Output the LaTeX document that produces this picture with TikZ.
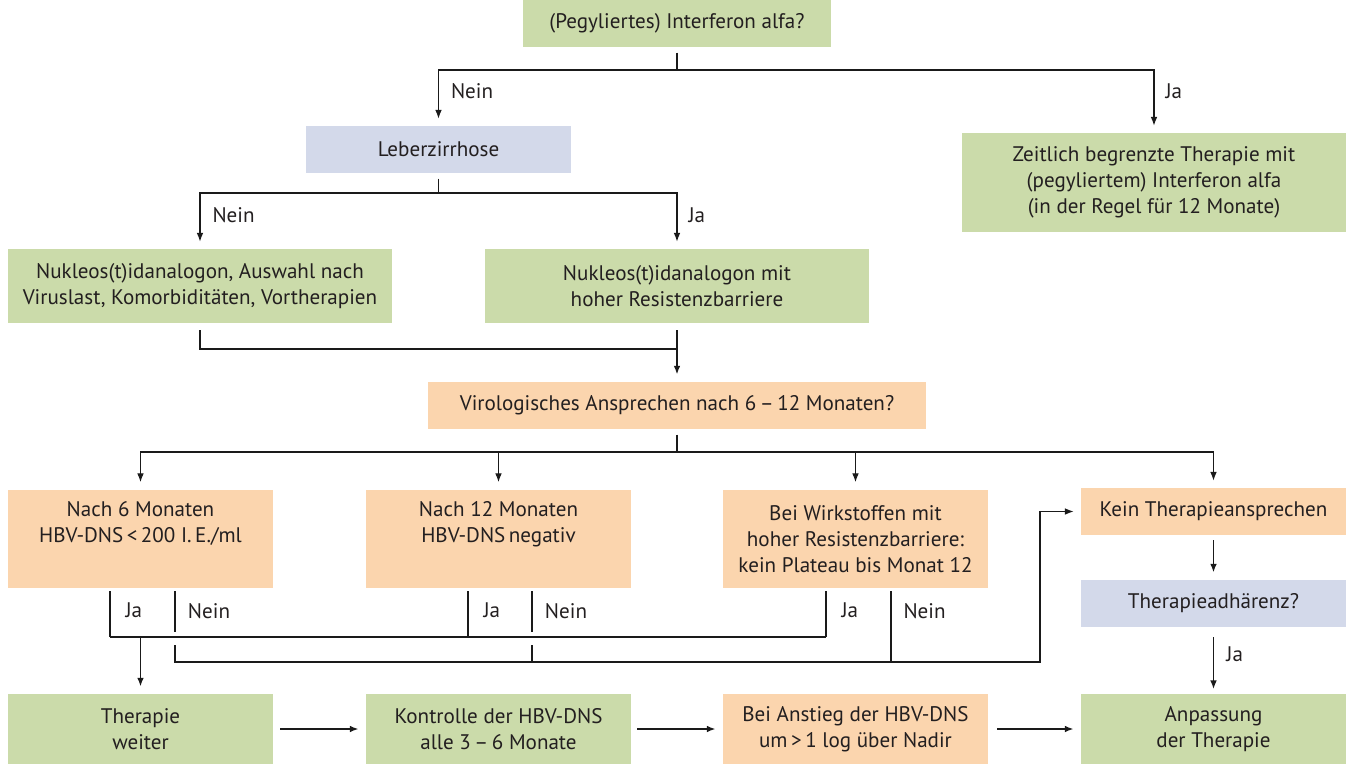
\documentclass[tikz,border=0pt]{standalone}
\usepackage{fontspec}
\setmainfont{PT Sans}
\usepackage{tikz}
\usetikzlibrary{positioning,arrows.meta}
\definecolor{hgreen}{HTML}{CBDBAA}
\definecolor{hblue}{HTML}{D3D9EA}
\definecolor{horange}{HTML}{FBD5AE}
\definecolor{hline}{HTML}{1A1A1A}
\definecolor{htext}{HTML}{231F20}
\tikzset{hbox/.style={rectangle, inner sep=0pt, align=center, text=htext, font=\fontsize{12}{14.7}\selectfont}}
\tikzset{hgreenbox/.style={hbox, fill=hgreen}}
\tikzset{hbluebox/.style={hbox, fill=hblue}}
\tikzset{horangebox/.style={hbox, fill=horange}}
\tikzset{hbus/.style={draw=hline, line width=0.6pt}}
\tikzset{hstem/.style={draw=hline, line width=1.1pt}}
\tikzset{harrow/.style={hbus, -{Latex[length=5pt,width=3.8pt]}, shorten >=4pt}}
\tikzset{hstemarrow/.style={hstem, -{Latex[length=5pt,width=3.8pt]}, shorten >=4pt}}
\tikzset{hlabel/.style={font=\fontsize{12}{14.7}\selectfont, text=htext, inner sep=0pt}}

\begin{document}
\begin{tikzpicture}[x=0.02cm, y=-0.02cm]
  \useasboundingbox (0,0) rectangle (1346,764);

  \node[hgreenbox, minimum width=6.16cm, minimum height=0.94cm] (ifn) at (677,23.5) {(Pegyliertes) Interferon alfa?};
  \node[hbluebox, minimum width=5.3cm, minimum height=0.94cm] (zirr) at (438.5,149.5) {Leberzirrhose};
  \node[hgreenbox, minimum width=7.68cm, minimum height=1.98cm] (zeit) at (1154,182.5) {Zeitlich begrenzte Therapie mit\\(pegyliertem) Interferon alfa\\(in der Regel für 12 Monate)};

  \node[hgreenbox, minimum width=7.68cm, minimum height=1.48cm] (nuk1) at (200,286) {Nukleos(t)idanalogon, Auswahl nach\\Viruslast, Komorbiditäten, Vortherapien};
  \node[hgreenbox, minimum width=7.68cm, minimum height=1.48cm] (nuk2) at (677,286) {Nukleos(t)idanalogon mit\\hoher Resistenzbarriere};

  \node[horangebox, minimum width=9.98cm, minimum height=0.94cm] (viro) at (677,405.5) {Virologisches Ansprechen nach 6\,–\,12 Monaten?};

  \node[horangebox, minimum width=5.3cm, minimum height=1.98cm] (n6) at (140.5,539) {Nach 6 Monaten\\HBV-DNS\,<\,200 I.\,E./ml\\\strut};
  \node[horangebox, minimum width=5.3cm, minimum height=1.98cm] (n12) at (498.5,539) {Nach 12 Monaten\\HBV-DNS\,negativ\\\strut};
  \node[horangebox, minimum width=5.3cm, minimum height=1.98cm] (wirk) at (855.5,539) {Bei Wirkstoffen mit\\hoher Resistenzbarriere:\\kein Plateau bis Monat 12};
  \node[horangebox, minimum width=5.3cm, minimum height=0.94cm] (kein) at (1213.5,511.5) {Kein Therapieansprechen};
  \node[hbluebox, minimum width=5.3cm, minimum height=0.94cm] (adh) at (1213.5,603.5) {Therapieadhärenz?};

  \node[hgreenbox, minimum width=5.3cm, minimum height=1.4cm] (ther) at (140.5,729) {Therapie\\weiter};
  \node[hgreenbox, minimum width=5.3cm, minimum height=1.4cm] (kontr) at (498.5,729) {Kontrolle der HBV-DNS\\alle 3\,–\,6 Monate};
  \node[horangebox, minimum width=5.3cm, minimum height=1.4cm] (anst) at (855.5,729) {Bei Anstieg der HBV-DNS\\um\,>\,1 log über Nadir};
  \node[hgreenbox, minimum width=5.3cm, minimum height=1.4cm] (anp) at (1213.5,729) {Anpassung\\der Therapie};

  \coordinate (j1) at (677,70);
  \coordinate (j2) at (438.5,193);
  \coordinate (j3) at (677,349);
  \coordinate (j4) at (677,452);
  \coordinate (n6ja) at (110,591);
  \coordinate (n6nein) at (175,591);
  \coordinate (n12ja) at (468,591);
  \coordinate (n12nein) at (532,591);
  \coordinate (wirkja) at (826,591);
  \coordinate (wirknein) at (891,591);
  \coordinate (jabus) at (0,637);
  \coordinate (gaptop) at (0,632);
  \coordinate (gapbot) at (0,645);
  \coordinate (neinbus) at (0,662);
  \coordinate (turn) at (1040,662);

  \draw[hstem, shorten <=3pt] (ifn.south) -- (j1);
  \draw[harrow] (j1) -| (zirr.north) node[hlabel, pos=0.69, right=0.24cm] {Nein};
  \draw[harrow] (j1) -| (zeit.north) node[hlabel, pos=0.67, right=0.22cm] {Ja};

  \draw[hstem, shorten <=3pt] (zirr.south) -- (j2);
  \draw[harrow] (j2) -| (nuk1.north) node[hlabel, pos=0.70, right=0.24cm] {Nein};
  \draw[harrow] (j2) -| (nuk2.north) node[hlabel, pos=0.70, right=0.22cm] {Ja};

  \draw[hbus, shorten <=4pt] (nuk1.south) |- (j3);
  \draw[hstemarrow, shorten <=4pt] (nuk2.south) -- (viro.north);

  \draw[hstem, shorten <=3pt] (viro.south) -- (j4);
  \draw[harrow] (j4) -| (n6.north);
  \draw[harrow] (j4) -| (n12.north);
  \draw[harrow] (j4) -| (wirk.north);
  \draw[harrow] (j4) -| (kein.north);

  \draw[hbus] (n6ja) -- (n6ja |- jabus) node[hlabel, pos=0.42, right=0.3cm] {Ja};
  \draw[hbus] (n6ja |- jabus) -- (wirkja |- jabus);
  \draw[hbus] (n12ja) -- (n12ja |- jabus) node[hlabel, pos=0.42, right=0.3cm] {Ja};
  \draw[hbus] (wirkja) -- (wirkja |- jabus) node[hlabel, pos=0.42, right=0.3cm] {Ja};
  \draw[hstemarrow] (ther.north |- jabus) -- (ther.north);

  \draw[hstem] (n6nein) -- (n6nein |- gaptop) node[hlabel, pos=0.5, right=0.24cm] {Nein};
  \draw[hstem] (n12nein) -- (n12nein |- gaptop) node[hlabel, pos=0.5, right=0.24cm] {Nein};
  \draw[hbus] (wirknein) -- (wirknein |- neinbus) node[hlabel, pos=0.29, right=0.24cm] {Nein};
  \draw[hbus] (n12nein |- gapbot) -- (n12nein |- neinbus);
  \draw[harrow] (n6nein |- gapbot) |- (turn) |- (kein.west);

  \draw[hstemarrow, shorten <=2.8pt] (kein.south) -- (adh.north);
  \draw[hstemarrow, shorten <=5.5pt, shorten >=2.5pt] (adh.south) -- (anp.north) node[hlabel, pos=0.4, right=0.24cm] {Ja};

  \draw[hstemarrow, shorten <=4pt] (ther.east) -- (kontr.west);
  \draw[hstemarrow, shorten <=3.4pt] (kontr.east) -- (anst.west);
  \draw[hstemarrow, shorten <=5pt] (anst.east) -- (anp.west);
\end{tikzpicture}
\end{document}
